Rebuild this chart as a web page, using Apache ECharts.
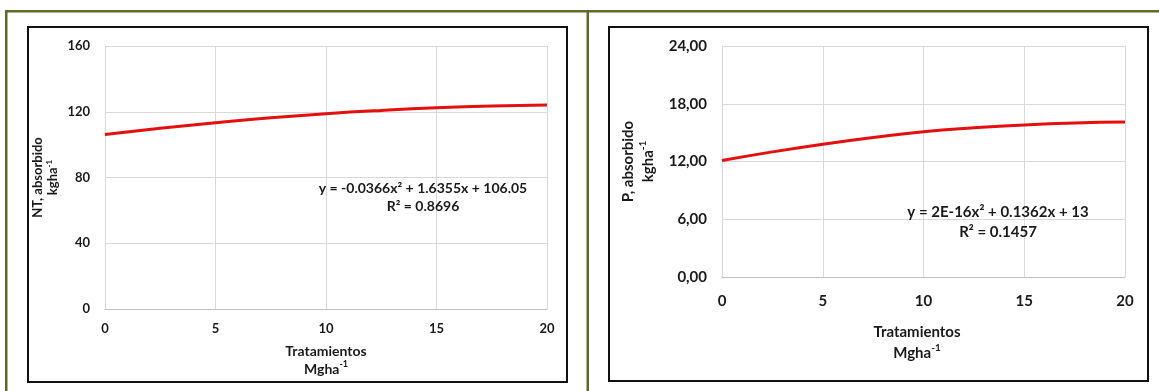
<!DOCTYPE html>
<html>
<head>
<meta charset="utf-8">
<script src="https://cdn.jsdelivr.net/npm/echarts@6/dist/echarts.min.js"></script>
<style>
  html, body { margin: 0; padding: 0; background: #ffffff; }
  #chart { width: 1159px; height: 391px; }
</style>
</head>
<body>
<div id="chart"></div>
<script>
// Dosis de enmienda (Mg/ha) y nutriente absorbido (kg/ha)
const doses = [0, 2.5, 5, 7.5, 10, 12.5, 15, 17.5, 20];
const ntAbsorbed = [106.1, 109.9, 113.3, 116.3, 118.8, 120.8, 122.4, 123.5, 124.1];
const pAbsorbed = [12.1, 13.0, 13.8, 14.5, 15.1, 15.5, 15.8, 16.0, 16.1];

// Marcas de los ejes
const doseTicks = [0, 5, 10, 15, 20];
const ntTicks = [0, 40, 80, 120, 160];
const pTicks = [0, 6, 12, 18, 24];

// Ecuaciones de tendencia
const ntEquation = ['y = -0.0366x² + 1.6355x + 106.05', 'R² = 0.8696'];
const pEquation = ['y = 2E-16x² + 0.1362x + 13', 'R² = 0.1457'];

const FONT = 'Lato, "Open Sans", sans-serif';
const INK = '#1a1a1a';
const GRID = '#d9d9d9';
const OLIVE = '#5b6b2b';
const RED = '#e3100f';

function toPairs(xs, ys) { return xs.map((x, i) => [x, ys[i]]); }
function tickRange(ticks) {
  return { min: ticks[0], max: ticks[ticks.length - 1], interval: ticks[1] - ticks[0] };
}
const supRich = (size, lh) => ({ sup: { fontSize: size, fontWeight: 'bold', fontFamily: FONT, color: INK, verticalAlign: 'top', lineHeight: lh } });

function xAxisFor(gridIndex, fontSize, nameSize, labelMargin, nameGap, lineHeight, namePad) {
  return {
    type: 'value', gridIndex, ...tickRange(doseTicks),
    axisLine: { show: true, lineStyle: { color: '#bfbfbf', width: 1 } },
    axisTick: { show: false },
    splitLine: { show: true, lineStyle: { color: GRID, width: 1 } },
    axisLabel: { color: INK, fontFamily: FONT, fontWeight: 'bold', fontSize, margin: labelMargin },
    name: 'Tratamientos\nMgha{sup|-1}',
    nameLocation: 'middle', nameGap,
    nameTextStyle: {
      color: INK, fontFamily: FONT, fontWeight: 'bold', fontSize: nameSize, lineHeight,
      padding: namePad, rich: supRich(nameSize - 5, nameSize)
    }
  };
}

function yAxisFor(gridIndex, ticks, fontSize, labelMargin, name, nameGap, lineHeight, fmt) {
  return {
    type: 'value', gridIndex, ...tickRange(ticks),
    axisLine: { show: false }, axisTick: { show: false },
    splitLine: { show: true, lineStyle: { color: GRID, width: 1 } },
    axisLabel: { color: INK, fontFamily: FONT, fontWeight: 'bold', fontSize, margin: labelMargin, formatter: fmt },
    name, nameLocation: 'middle', nameRotate: 90, nameGap,
    nameTextStyle: {
      color: INK, fontFamily: FONT, fontWeight: 'bold', fontSize, lineHeight,
      rich: supRich(fontSize - 5, fontSize)
    }
  };
}

function equationText(x, y, lines, fontSize, lineHeight) {
  return {
    type: 'text', x, y, z: 10,
    style: {
      text: lines.join('\n'), align: 'center', verticalAlign: 'top',
      fontFamily: FONT, fontWeight: 'bold', fontSize, lineHeight, fill: INK
    }
  };
}

const chart = echarts.init(document.getElementById('chart'), null, { renderer: 'canvas' });

chart.setOption({
  animation: false,
  backgroundColor: '#ffffff',
  grid: [
    { left: 105, top: 46, width: 442, height: 263 },
    { left: 722, top: 46, width: 403, height: 231 }
  ],
  xAxis: [
    xAxisFor(0, 13, 14, 13, 33, 18, [0, 0, 0, 0]),
    xAxisFor(1, 15, 15, 17, 45, 21, [0, 13, 0, 0])
  ],
  yAxis: [
    yAxisFor(0, ntTicks, 13, 15, 'NT, absorbido\nkgha{sup|-1}', 45, 15, v => String(v)),
    yAxisFor(1, pTicks, 15, 15, 'P, absorbido\nkgha{sup|-1}', 64, 20, v => v.toFixed(2).replace('.', ','))
  ],
  series: [
    {
      type: 'line', xAxisIndex: 0, yAxisIndex: 0, smooth: true, showSymbol: false,
      data: toPairs(doses, ntAbsorbed), lineStyle: { color: RED, width: 3 }, z: 5
    },
    {
      type: 'line', xAxisIndex: 1, yAxisIndex: 1, smooth: true, showSymbol: false,
      data: toPairs(doses, pAbsorbed), lineStyle: { color: RED, width: 3 }, z: 5
    }
  ],
  graphic: [
    // marco exterior verde
    { type: 'rect', shape: { x: 5, y: 10, width: 1154, height: 2.5 }, style: { fill: OLIVE }, z: 1 },
    { type: 'rect', shape: { x: 5, y: 10, width: 2.5, height: 381 }, style: { fill: OLIVE }, z: 1 },
    { type: 'rect', shape: { x: 586.5, y: 10, width: 2.5, height: 381 }, style: { fill: OLIVE }, z: 1 },
    // recuadros de cada gráfico
    { type: 'rect', shape: { x: 28, y: 27, width: 539, height: 355 }, style: { fill: 'none', stroke: '#111', lineWidth: 2 }, z: 1 },
    { type: 'rect', shape: { x: 609, y: 27, width: 539, height: 354 }, style: { fill: 'none', stroke: '#111', lineWidth: 2 }, z: 1 },
    equationText(423, 179, ntEquation, 14, 18),
    equationText(998, 202, pEquation, 15, 20)
  ]
});
</script>
</body>
</html>
